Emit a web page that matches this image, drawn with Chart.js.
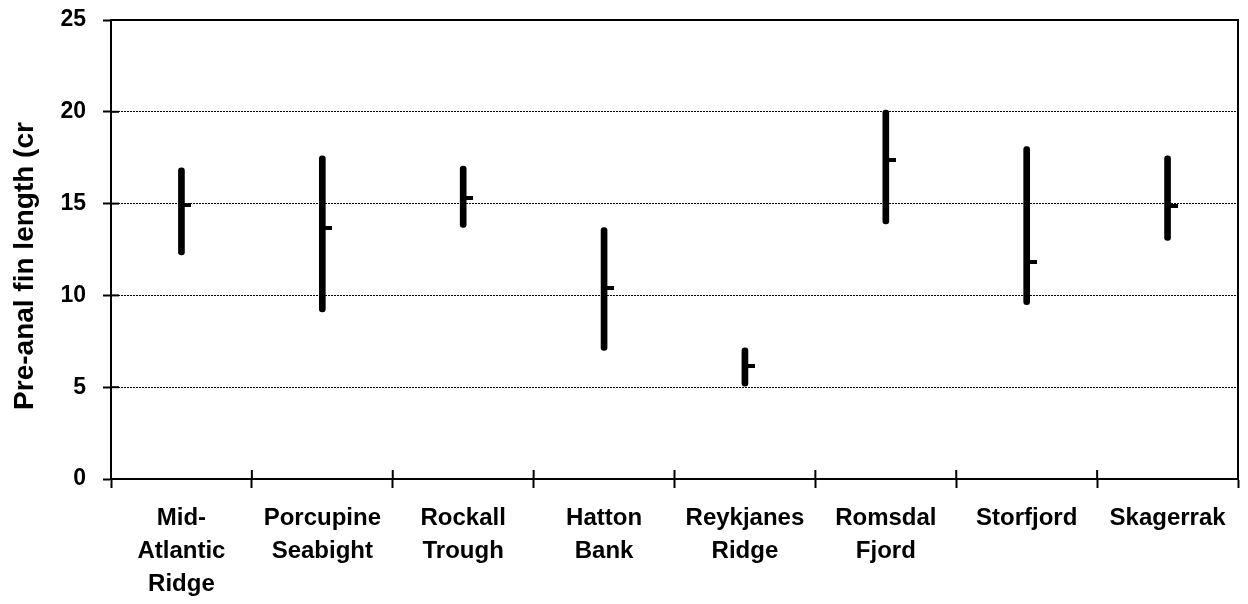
<!DOCTYPE html>
<html><head><meta charset="utf-8">
<script src="https://cdn.jsdelivr.net/npm/chart.js@4"></script>
<style>html,body{margin:0;padding:0;background:#fff}#wrap{width:1248px;height:604px}</style>
</head><body><div id="wrap"><canvas id="c" width="1248" height="604"></canvas></div>
<script>
const categories = [["Mid-","Atlantic","Ridge"],["Porcupine","Seabight"],["Rockall","Trough"],["Hatton","Bank"],["Reykjanes","Ridge"],["Romsdal","Fjord"],["Storfjord"],["Skagerrak"]];
const minValues  = [12.2, 9.1, 13.7, 7.0, 5.05, 13.9, 9.5, 13.0];
const maxValues  = [16.95, 17.6, 17.05, 13.7, 7.15, 20.1, 18.1, 17.6];
const meanValues = [14.95, 13.65, 15.3, 10.4, 6.15, 17.35, 11.8, 14.85];
const yTicks = [0, 5, 10, 15, 20, 25];
const yTitle = "Pre-anal fin length (cr";

const FONT = "'Liberation Sans', Arial, sans-serif";

// mean marker: short horizontal stub to the right of the point
const meanMark = document.createElement('canvas');
meanMark.width = 20; meanMark.height = 4;
(function(){ const g = meanMark.getContext('2d'); g.fillStyle = '#000'; g.fillRect(10, 0, 10, 4); })();

const framePlugin = {
  id: 'frame',
  afterDraw(chart) {
    const ctx = chart.ctx, a = chart.chartArea;
    const ys = chart.scales.y, xs = chart.scales.x;
    ctx.save();
    ctx.strokeStyle = '#000';
    ctx.lineWidth = 2;
    ctx.beginPath();
    ctx.moveTo(a.left - 1, a.top); ctx.lineTo(a.right, a.top); ctx.lineTo(a.right, a.bottom);
    ctx.stroke();
    ys.ticks.forEach(t => {
      if (t.value === 0 || t.value === 25) return;
      const py = ys.getPixelForValue(t.value);
      ctx.beginPath(); ctx.moveTo(a.left, py); ctx.lineTo(a.left + 8, py); ctx.stroke();
    });
    const n = categories.length;
    for (let i = 1; i < n; i++) {
      const px = (xs.getPixelForValue(i - 1) + xs.getPixelForValue(i)) / 2;
      ctx.beginPath(); ctx.moveTo(px, a.bottom); ctx.lineTo(px, a.bottom - 9); ctx.stroke();
    }
    ctx.fillStyle = '#000';
    ctx.font = "bold 28px " + FONT;
    ctx.textAlign = 'center';
    ctx.textBaseline = 'alphabetic';
    ctx.translate(33, 266);
    ctx.rotate(-Math.PI / 2);
    ctx.fillText(yTitle, 0, 0);
    ctx.restore();
  }
};

new Chart(document.getElementById('c'), {
  data: {
    labels: categories,
    datasets: [
      {
        type: 'bar',
        data: categories.map((_, i) => [minValues[i], maxValues[i]]),
        backgroundColor: '#000',
        barThickness: 6,
        borderRadius: 3,
        borderSkipped: false,
        order: 2
      },
      {
        type: 'line',
        data: meanValues,
        showLine: false,
        pointStyle: meanMark,
        pointRadius: 4,
        order: 1
      }
    ]
  },
  options: {
    responsive: false,
    animation: false,
    devicePixelRatio: 1,
    layout: { padding: { top: 20, right: 10, left: 0, bottom: 0 } },
    plugins: { legend: { display: false }, tooltip: { enabled: false } },
    scales: {
      x: {
        type: 'category',
        offset: true,
        grid: { offset: true, drawOnChartArea: false, drawTicks: true, tickLength: 9, tickWidth: 2, tickColor: '#000', color: '#000' },
        border: { display: true, color: '#000', width: 2 },
        ticks: { color: '#000', font: { family: FONT, size: 24, weight: 'bold', lineHeight: 1.375 }, padding: 14, maxRotation: 0, autoSkip: false },
        afterFit(s) { s.height = 125; s.paddingLeft = 0; s.paddingRight = 0; }
      },
      y: {
        min: 0, max: 25,
        afterBuildTicks(s) { s.ticks = yTicks.map(v => ({ value: v })); },
        grid: {
          color: c => (c.tick && (c.tick.value === 25 || c.tick.value === 0)) ? 'rgba(0,0,0,0)' : '#000',
          lineWidth: 1, tickLength: 8, tickWidth: 2, tickColor: '#000'
        },
        border: { display: true, color: '#000', width: 2, dash: [2, 1] },
        ticks: { color: '#000', font: { family: FONT, size: 23, weight: 'bold' }, padding: 17 },
        afterFit(s) { s.width = 111; s.paddingTop = 0; s.paddingBottom = 0; }
      }
    }
  },
  plugins: [framePlugin]
});
</script>
</body></html>
